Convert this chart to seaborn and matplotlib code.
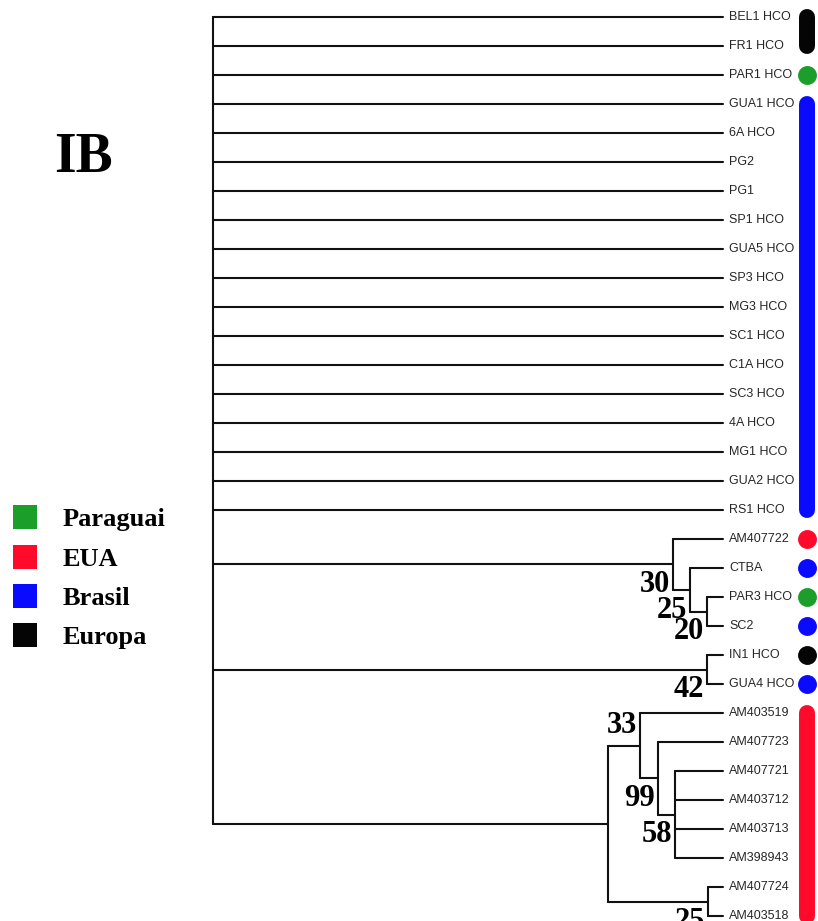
import pandas as pd
import numpy as np
import matplotlib.pyplot as plt
import seaborn as sns
from matplotlib.lines import Line2D

sns.set_theme(style='white')
plt.rcParams['font.family'] = ['Liberation Sans', 'DejaVu Sans']
plt.rcParams['text.color'] = 'black'

# folhas da arvore, de cima para baixo
leaves = ['BEL1 HCO', 'FR1 HCO', 'PAR1 HCO', 'GUA1 HCO', '6A HCO', 'PG2', 'PG1',
          'SP1 HCO', 'GUA5 HCO', 'SP3 HCO', 'MG3 HCO', 'SC1 HCO', 'C1A HCO',
          'SC3 HCO', '4A HCO', 'MG1 HCO', 'GUA2 HCO', 'RS1 HCO', 'AM407722',
          'CTBA', 'PAR3 HCO', 'SC2', 'IN1 HCO', 'GUA4 HCO', 'AM403519',
          'AM407723', 'AM407721', 'AM403712', 'AM403713', 'AM398943',
          'AM407724', 'AM403518']
origin = ['Europa', 'Europa', 'Paraguai'] + ['Brasil'] * 15 + \
         ['EUA', 'Brasil', 'Paraguai', 'Brasil', 'Europa', 'Brasil'] + ['EUA'] * 8

# nos internos (filhos, profundidade, bootstrap)
node_names = ['n20', 'n25a', 'n30', 'n42', 'n58', 'n99', 'n33', 'n25b', 'nEUA', 'root']
node_children = [
    ['PAR3 HCO', 'SC2'],
    ['CTBA', 'n20'],
    ['AM407722', 'n25a'],
    ['IN1 HCO', 'GUA4 HCO'],
    ['AM407721', 'AM403712', 'AM403713', 'AM398943'],
    ['AM407723', 'n58'],
    ['AM403519', 'n99'],
    ['AM407724', 'AM403518'],
    ['n33', 'n25b'],
    leaves[:18] + ['n30', 'n42', 'nEUA'],
]
node_depth = [494, 477, 460, 494, 462, 445, 427, 495, 395, 0]
node_support = [20, 25, 30, 42, 58, 99, 33, 25, None, None]
support_above = ['n33']
tip_depth = 510

legend_names = ['Paraguai', 'EUA', 'Brasil', 'Europa']
palette = {'Paraguai': '#1c9e2a', 'EUA': '#ff0a2a', 'Brasil': '#0a0aff', 'Europa': '#050505'}

# posicoes
ypos = {name: i for i, name in enumerate(leaves)}
xpos = {name: tip_depth for name in leaves}
for name, ch, d in zip(node_names, node_children, node_depth):
    ypos[name] = (ypos[ch[0]] + ypos[ch[-1]]) / 2
    xpos[name] = d

rows = []
seg = 0
for name, ch in zip(node_names, node_children):
    rows += [(xpos[name], ypos[ch[0]], seg), (xpos[name], ypos[ch[-1]], seg)]
    seg += 1
    for c in ch:
        rows += [(xpos[name], ypos[c], seg), (xpos[c], ypos[c], seg)]
        seg += 1
segs = pd.DataFrame(rows, columns=['x', 'y', 'seg'])

fig = plt.figure(figsize=(8.18, 9.21), dpi=100)
ax = fig.add_axes([0, 0, 1, 1])
sns.lineplot(data=segs, x='x', y='y', units='seg', estimator=None, sort=False,
             color='#111111', lw=1.5, ax=ax)

for name in leaves:
    ax.text(tip_depth + 6, ypos[name], name, va='center', fontsize=9, color='#262626')

for name, s in zip(node_names, node_support):
    if s is None:
        continue
    if name in support_above:
        ax.text(xpos[name] - 3, ypos[name] - 0.2, str(s), ha='right', va='bottom',
                family='Liberation Serif', weight='bold', fontsize=22)
    else:
        ax.text(xpos[name] - 3, ypos[name] + 0.2, str(s), ha='right', va='top',
                family='Liberation Serif', weight='bold', fontsize=22)

# marcadores de origem
mark_x = 594
runs = []
start = 0
for i in range(1, len(origin) + 1):
    if i == len(origin) or origin[i] != origin[start]:
        runs.append((start, i - 1, origin[start]))
        start = i
for a, b, o in runs:
    if a == b:
        ax.scatter([mark_x], [a], s=185, color=palette[o], linewidths=0, zorder=3)
    else:
        ax.plot([mark_x, mark_x], [a, b], color=palette[o], lw=11.5,
                solid_capstyle='round', zorder=3)

ax.set_xlim(-213, 605)
ax.set_ylim(31.17, -0.586)
ax.axis('off')

fig.text(83 / 818, 1 - 158 / 921, 'IB', ha='center', va='center',
         family='Liberation Serif', weight='bold', fontsize=40)

handles = [Line2D([], [], marker='s', ls='none', markersize=17,
                  markerfacecolor=palette[n], markeredgewidth=0) for n in legend_names]
ax.legend(handles, legend_names, loc='upper left',
          bbox_to_anchor=(12 / 818, 1 - 508 / 921), bbox_transform=fig.transFigure,
          frameon=False, prop={'family': 'Liberation Serif', 'weight': 'bold', 'size': 19},
          handlelength=1.0, handletextpad=0.92, labelspacing=0.6,
          borderpad=0, borderaxespad=0)

fig.savefig('out.png', dpi=100)
